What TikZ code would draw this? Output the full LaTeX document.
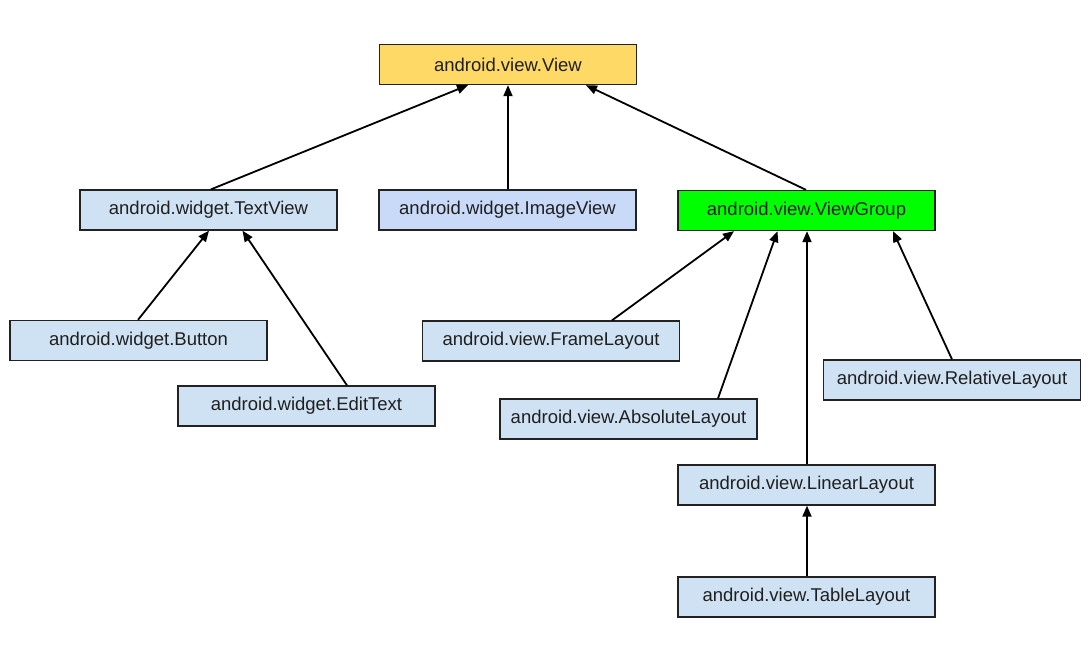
\documentclass[tikz,border=0pt]{standalone}
\usepackage{fontspec}
\setmainfont{Liberation Sans}
\usetikzlibrary{arrows.meta}
\definecolor{cOrange}{HTML}{FFD966}
\definecolor{cBlue}{HTML}{CFE2F3}
\definecolor{cBlueB}{HTML}{C9DAF8}
\definecolor{cGreen}{HTML}{00FF00}
\definecolor{cEdge}{HTML}{222222}
\begin{document}
\begin{tikzpicture}[x=1pt,y=-1pt,
  cls/.style={draw=cEdge,line width=1.3pt,rectangle,minimum width=257pt,minimum height=40pt,
    inner sep=0pt,font=\fontsize{18.5}{22}\selectfont,text=black!88},
  arr/.style={draw=black,line width=1.8pt,-{Triangle[length=11pt,width=9pt]}}]
\useasboundingbox (0,0) rectangle (1090,667);
\node[cls,fill=cOrange] (view) at (508,64.5) {android.view.View};
\node[cls,fill=cBlue] (tv) at (208.5,210) {android.widget.TextView};
\node[cls,fill=cBlueB] (iv) at (507.5,210) {android.widget.ImageView};
\node[cls,fill=cGreen] (vg) at (806.5,210.5) {android.view.ViewGroup};
\node[cls,fill=cBlue] (btn) at (138.5,340.5) {android.widget.Button};
\node[cls,fill=cBlue] (et) at (306.5,406) {android.widget.EditText};
\node[cls,fill=cBlue] (fl) at (551,341) {android.view.FrameLayout};
\node[cls,fill=cBlue] (al) at (628.5,419) {android.view.AbsoluteLayout};
\node[cls,fill=cBlue] (rl) at (952,380) {android.view.RelativeLayout};
\node[cls,fill=cBlue] (ll) at (806.5,485) {android.view.LinearLayout};
\node[cls,fill=cBlue] (tl) at (806.5,597) {android.view.TableLayout};
\draw[arr] ([xshift=2.5pt]tv.north) -- ([xshift=-40pt]view.south);
\draw[arr] ([xshift=0.5pt]iv.north) -- (view.south);
\draw[arr] ([xshift=-0.5pt]vg.north) -- ([xshift=78pt]view.south);
\draw[arr] ([xshift=-0.5pt]btn.north) -- ([xshift=0.5pt]tv.south);
\draw[arr] ([xshift=40.5pt]et.north) -- ([xshift=34pt]tv.south);
\draw[arr] ([xshift=61pt]fl.north) -- ([xshift=-72.5pt]vg.south);
\draw[arr] ([xshift=89.5pt]al.north) -- ([xshift=-29pt]vg.south);
\draw[arr] ([xshift=0.5pt]ll.north) -- ([xshift=0.5pt]vg.south);
\draw[arr] ([xshift=0pt]rl.north) -- ([xshift=86.5pt]vg.south);
\draw[arr] ([xshift=0.5pt]tl.north) -- ([xshift=0.5pt]ll.south);
\end{tikzpicture}
\end{document}
